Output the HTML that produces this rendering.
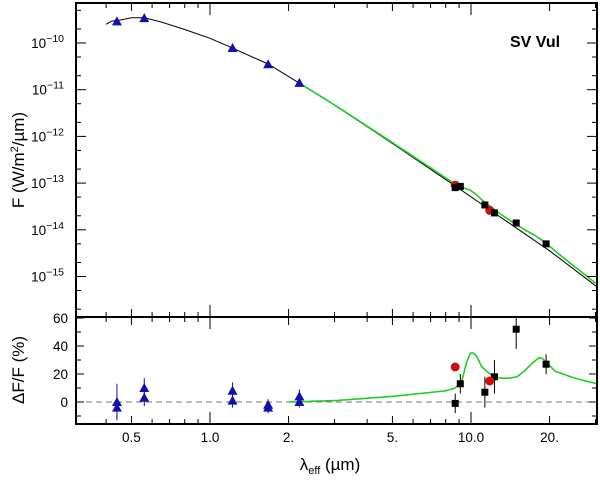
<!DOCTYPE html>
<html><head><meta charset="utf-8"><style>
html,body{margin:0;padding:0;background:#fff;width:600px;height:481px;overflow:hidden}
svg{display:block;font-family:"Liberation Sans",sans-serif}
</style></head><body>
<svg id="c" width="600" height="481" viewBox="0 0 600 481"></svg>
<script>
// ---- data ----
const modelLam=[0.4,0.42,0.45,0.5,0.56,0.65,0.8,1.0,1.22,1.67,2.2,3,5,8.7,12,20,30.4];
const modelLogF=[-9.60,-9.53,-9.51,-9.46,-9.46,-9.55,-9.71,-9.90,-10.11,-10.45,-10.86,-11.33,-12.15,-13.06,-13.6,-14.45,-15.22];
const excessLam=[2.0,3,5,8,8.7,9.2,9.6,10,10.5,11,12,13,14,15,16,17,18,18.6,19.5,21,25,30.4];
const excessPct=[0,1,4,8,10,14,28,36,33,25,19,17,17,18,22,27,31,32,28,22,17,13];
const triLam=[0.44,0.44,0.56,0.56,1.22,1.22,1.67,1.67,2.2,2.2];
const triF=[2.9e-10,2.8e-10,3.4e-10,3.3e-10,7.8e-11,7.6e-11,3.5e-11,3.4e-11,1.4e-11,1.38e-11];
const triRes=[0,-4,10,3,8,1,-2,-4,4,0];
const triErr=[13,8,7,6,6,5,4,4,5,4];
const sqLam=[8.7,9.1,11.3,12.3,14.9,19.4];
const sqF=[8.0e-14,8.5e-14,3.4e-14,2.3e-14,1.4e-14,5.0e-15];
const sqRes=[-1,13,7,18,52,27];
const sqErr=[7,7,11,12,14,7];
const redLam=[8.7,11.8];
const redF=[9.0e-14,2.6e-14];
const redRes=[25,15];
const xTickVals=[0.5,1.0,2,5,10,20];
const xTickLabels=["0.5","1.0","2.","5.","10.0","20."];
const yTopExp=[-10,-11,-12,-13,-14,-15];
const yBotTicks=[0,20,40,60];

// ---- scales ----
const L=76,R=597,T=3,M=317,B=424;
const x=l=>210+261*Math.log10(l);
const yT=lf=>43-46.7*(lf+10);
const yB=v=>402-1.4*v;
const svg=document.getElementById('c');
const NS='http://www.w3.org/2000/svg';
function mk(tag,attrs,parent){const e=document.createElementNS(NS,tag);for(const k in attrs)e.setAttribute(k,attrs[k]);(parent||svg).appendChild(e);return e;}
function interp(xs,ys,v){for(let i=0;i<xs.length-1;i++){if(v>=xs[i]&&v<=xs[i+1]){const t=(Math.log(v)-Math.log(xs[i]))/(Math.log(xs[i+1])-Math.log(xs[i]));return ys[i]+t*(ys[i+1]-ys[i]);}}return v<xs[0]?ys[0]:ys[ys.length-1];}

const defs=mk('defs',{});
const cp1=mk('clipPath',{id:'ct'},defs);mk('rect',{x:L,y:T,width:R-L,height:M-T},cp1);
const cp2=mk('clipPath',{id:'cb'},defs);mk('rect',{x:L,y:M,width:R-L,height:B-M},cp2);

// ---- top panel ----
const gT=mk('g',{'clip-path':'url(#ct)'});


let d='';
for(let i=0;i<modelLam.length;i++){d+=(i?'L':'M')+x(modelLam[i]).toFixed(1)+','+yT(modelLogF[i]).toFixed(1);}
const ml=mk('path',{d:d,fill:'none',stroke:'#000','stroke-width':1},gT);


let dg='';
const gl=[];for(let l=2.2;l<=30.5;l*=1.02)gl.push(l);
gl.forEach((l,i)=>{const lf=interp(modelLam,modelLogF,l)+Math.log10(1+interp(excessLam,excessPct,l)/100);dg+=(i?'L':'M')+x(l).toFixed(1)+','+yT(lf).toFixed(1);});
const gp=mk('path',{d:dg,fill:'none',stroke:'#22cc22','stroke-width':1.6},gT);


function tri(g,cx,cy,name){const p=mk('polygon',{points:`${cx},${cy-5} ${cx-5},${cy+4} ${cx+5},${cy+4}`,fill:'#1010b0'},g);}
function sq(g,cx,cy,name){const p=mk('rect',{x:cx-3.5,y:cy-3.5,width:7,height:7,fill:'#000'},g);}
function circ(g,cx,cy,name){const p=mk('circle',{cx:cx,cy:cy,r:4.5,fill:'#cc1010'},g);}
for(let i=0;i<triLam.length;i+=2)tri(gT,x(triLam[i]),yT(Math.log10(triF[i])),'photometry-triangle');
for(let i=0;i<redLam.length;i++)circ(gT,x(redLam[i]),yT(Math.log10(redF[i])),'iras-circle');
for(let i=0;i<sqLam.length;i++)sq(gT,x(sqLam[i]),yT(Math.log10(sqF[i])),'mir-square');

// ---- bottom panel ----
const gB=mk('g',{'clip-path':'url(#cb)'});


const zl=mk('line',{x1:L,x2:R,y1:yB(0),y2:yB(0),stroke:'#777','stroke-dasharray':'6,4','stroke-width':1},gB);


let dr='';
const rl=[];for(let l=2.0;l<=30.5;l*=1.02)rl.push(l);
rl.forEach((l,i)=>{dr+=(i?'L':'M')+x(l).toFixed(1)+','+yB(interp(excessLam,excessPct,l)).toFixed(1);});
const rp=mk('path',{d:dr,fill:'none',stroke:'#22cc22','stroke-width':1.6},gB);


function eb(g,cx,v,e,col){const l=mk('line',{x1:cx,x2:cx,y1:yB(v-e),y2:yB(v+e),stroke:col,'stroke-width':1},g);}
for(let i=0;i<triLam.length;i++){eb(gB,x(triLam[i]),triRes[i],triErr[i],'#1010b0');tri(gB,x(triLam[i]),yB(triRes[i]),'residual-triangle');}
for(let i=0;i<sqLam.length;i++){eb(gB,x(sqLam[i]),sqRes[i],sqErr[i],'#000');sq(gB,x(sqLam[i]),yB(sqRes[i]),'residual-square');}
for(let i=0;i<redLam.length;i++)circ(gB,x(redLam[i]),yB(redRes[i]),'residual-circle');

// ---- axes / ticks ----
const ax=mk('g',{stroke:'#000','stroke-width':1});


function ln(x1,y1,x2,y2,w){mk('line',{x1,y1,x2,y2,'stroke-width':w||1},ax);}
const minors=[];for(let dd of [0.1,1,10])for(let k=1;k<10;k++){const v=dd*k;if(x(v)>L&&x(v)<R)minors.push(v);}
minors.push(30);
minors.forEach(v=>{const X=x(v);const major=(v===1||v===10);const len=major?12:(xTickVals.includes(v)?8:5);
 ln(X,T,X,T+len);ln(X,M,X,M-len);ln(X,M,X,M+len);ln(X,B,X,B-len);});
for(let e=-16;e<=-9;e++){for(const f of [0,0.3,0.7]){const Y=yT(e+f);if(Y>T&&Y<M){const len=f===0?10:5;ln(L,Y,L+len,Y);ln(R,Y,R-len,Y);}}}
for(let v=-10;v<=60;v+=10){const Y=yB(v);if(Y>M&&Y<B){const len=v%20===0?8:5;ln(L,Y,L+len,Y);ln(R,Y,R-len,Y);}}
mk('rect',{x:L,y:T,width:R-L,height:B-T,fill:'none','stroke-width':2},ax);
ln(L,M,R,M,2);

const lab=mk('g',{'font-size':13.5,fill:'#000'});


xTickVals.forEach((v,i)=>{const t=mk('text',{x:x(v),y:442,'text-anchor':'middle'},lab);t.textContent=xTickLabels[i];});
yTopExp.forEach(e=>{const t=mk('text',{x:64,y:yT(e)+5,'text-anchor':'end'},lab);t.textContent='10';const s=mk('tspan',{dy:-6,'font-size':10.5},t);s.textContent='\u2212'+(-e);});
yBotTicks.forEach(v=>{const t=mk('text',{x:68,y:yB(v)+5,'text-anchor':'end'},lab);t.textContent=v;});
</script>
<svg width="600" height="481" style="position:absolute;left:0;top:0">
<text x="535" y="47" font-family="Liberation Sans,sans-serif" font-weight="bold" font-size="16" text-anchor="middle">SV Vul</text>
<text transform="translate(24,160) rotate(-90)" font-family="Liberation Sans,sans-serif" font-size="17" text-anchor="middle">F (W/m<tspan dy="-6" font-size="11">2</tspan><tspan dy="6">/µm)</tspan></text>
<text transform="translate(24,370) rotate(-90)" font-family="Liberation Sans,sans-serif" font-size="17" text-anchor="middle">ΔF/F (%)</text>
<text x="330" y="470" font-family="Liberation Sans,sans-serif" font-size="17" text-anchor="middle">λ<tspan font-size="11" dy="4">eff</tspan><tspan dy="-4"> (µm)</tspan></text>
</svg>
</body></html>
